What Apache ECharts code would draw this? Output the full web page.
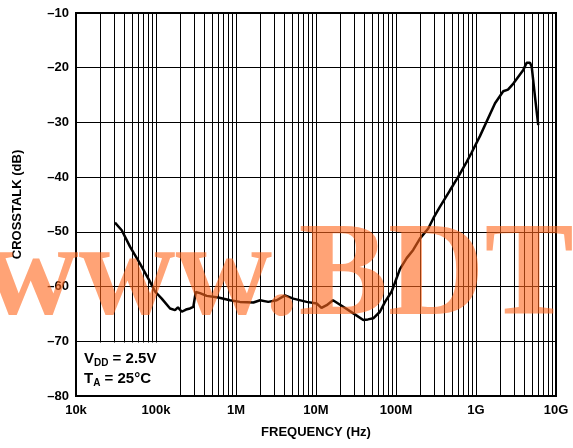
<!DOCTYPE html>
<html>
<head>
<meta charset="utf-8">
<script src="https://cdn.jsdelivr.net/npm/echarts@6/dist/echarts.min.js"></script>
<style>
  html, body { margin: 0; padding: 0; background: #fff; }
  #chart { width: 573px; height: 448px; }
</style>
</head>
<body>
<div id="chart"></div>
<script>
// crosstalk vs frequency
var freq = [30.7e3, 37.3e3, 47.3e3, 63.1e3, 84.1e3, 97.2e3, 118e3, 150e3, 173e3, 188e3,
    210e3, 237e3, 266e3, 293e3, 314e3, 355e3, 430e3, 601e3, 841e3, 1.12e6,
    1.65e6, 2.0e6, 2.53e6, 3.23e6, 4.1e6, 5.2e6, 7.65e6, 10.2e6, 11.7e6, 13.6e6,
    16.3e6, 21.9e6, 29.3e6, 39e6, 44.7e6, 52e6, 63e6, 72.9e6, 88.3e6, 112e6,
    136e6, 164e6, 200e6, 253e6, 293e6, 355e6, 473e6, 601e6, 765e6, 883e6,
    1.12e9, 1.73e9, 2.19e9, 2.51e9, 2.93e9, 3.9e9, 4.3e9, 4.73e9, 4.97e9, 5.46e9, 6.0e9];
var crosstalk = [-48.3, -49.7, -52.7, -55.8, -59.1, -60.9, -62.2, -64.0, -64.3, -63.8,
    -64.6, -64.2, -64.0, -63.7, -61.0, -61.2, -61.7, -62.0, -62.5, -62.8,
    -62.9, -62.5, -62.8, -62.5, -61.6, -62.2, -62.8, -63.1, -63.9, -63.4,
    -62.5, -63.7, -64.9, -66.1, -66.0, -65.8, -64.6, -62.8, -60.9, -56.8,
    -54.8, -53.3, -51.2, -49.4, -47.5, -45.4, -42.4, -39.9, -37.2, -35.5,
    -32.5, -26.5, -24.3, -24.0, -22.9, -20.4, -19.1, -19.1, -19.8, -25.3, -30.5];

var xTickLabels = ['10k', '100k', '1M', '10M', '100M', '1G', '10G'];
var yMin = -80, yMax = -10;

// vertical grid at 2..9 of each decade
var minorLines = [];
for (var d = 4; d < 10; d++) {
    for (var m = 2; m <= 9; m++) {
        minorLines.push({ xAxis: m * Math.pow(10, d) });
    }
}

var seriesData = [];
for (var i = 0; i < freq.length; i++) {
    seriesData.push([freq[i], crosstalk[i]]);
}

var myChart = echarts.init(document.getElementById('chart'));
var font = 'Liberation Sans, Arial, sans-serif';

var option = {
    animation: false,
    grid: {
        left: 76, right: 17, top: 13, bottom: 52,
        show: true, borderColor: '#000', borderWidth: 2
    },
    xAxis: {
        type: 'log',
        logBase: 10,
        min: 1e4,
        max: 1e10,
        name: 'FREQUENCY (Hz)',
        nameLocation: 'middle',
        nameGap: 30,
        nameTextStyle: { color: '#000', fontWeight: 'bold', fontSize: 13, fontFamily: font },
        axisLine: { show: true, lineStyle: { color: '#000', width: 2 } },
        axisTick: { show: false },
        axisLabel: {
            color: '#000', fontWeight: 'bold', fontSize: 13, fontFamily: font, margin: 8,
            formatter: function (v) {
                var k = Math.round(Math.log(v) / Math.LN10) - 4;
                return xTickLabels[k] || '';
            }
        },
        splitLine: { show: true, lineStyle: { color: '#000', width: 1 } }
    },
    yAxis: {
        type: 'value',
        min: yMin,
        max: yMax,
        interval: 10,
        name: 'CROSSTALK (dB)',
        nameLocation: 'middle',
        nameGap: 52,
        nameTextStyle: { color: '#000', fontWeight: 'bold', fontSize: 13, fontFamily: font },
        axisLine: { show: true, lineStyle: { color: '#000', width: 2 } },
        axisTick: { show: false },
        axisLabel: {
            color: '#000', fontWeight: 'bold', fontSize: 13, fontFamily: font, margin: 7,
            formatter: function (v) { return '\u2013' + Math.abs(v); }
        },
        splitLine: { show: true, lineStyle: { color: '#000', width: 1 } }
    },
    series: [{
        type: 'line',
        data: seriesData,
        showSymbol: false,
        symbol: 'none',
        lineStyle: { color: '#000', width: 2.5 },
        z: 3,
        markLine: {
            silent: true,
            symbol: 'none',
            label: { show: false },
            lineStyle: { color: '#000', width: 1, type: 'solid' },
            data: minorLines,
            z: 1
        }
    }],
    graphic: [
        {
            type: 'rect',
            z: 50,
            shape: { x: 77, y: 342.5, width: 101, height: 52.5 },
            style: { fill: '#fff' }
        },
        {
            type: 'text',
            z: 51,
            left: 84,
            top: 350,
            style: {
                text: '{a|V}{s|DD}{a| = 2.5V}\n{a|T}{s|A}{a| = 25°C}',
                rich: {
                    a: { fontSize: 15, fontWeight: 'bold', fontFamily: font, fill: '#000', lineHeight: 20 },
                    s: { fontSize: 10, fontWeight: 'bold', fontFamily: font, fill: '#000', lineHeight: 20, padding: [8, 0, 0, 0] }
                }
            }
        },
        {
            type: 'text',
            z: 100,
            silent: true,
            x: -18,
            y: 346,
            style: {
                text: 'www.BDTIC.com',
                font: 'bold 134px "Liberation Serif", "Times New Roman", serif',
                fill: 'rgba(255, 102, 26, 0.6)',
                textVerticalAlign: 'bottom',
                verticalAlign: 'alphabetic'
            }
        }
    ]
};

myChart.setOption(option);
</script>
</body>
</html>
